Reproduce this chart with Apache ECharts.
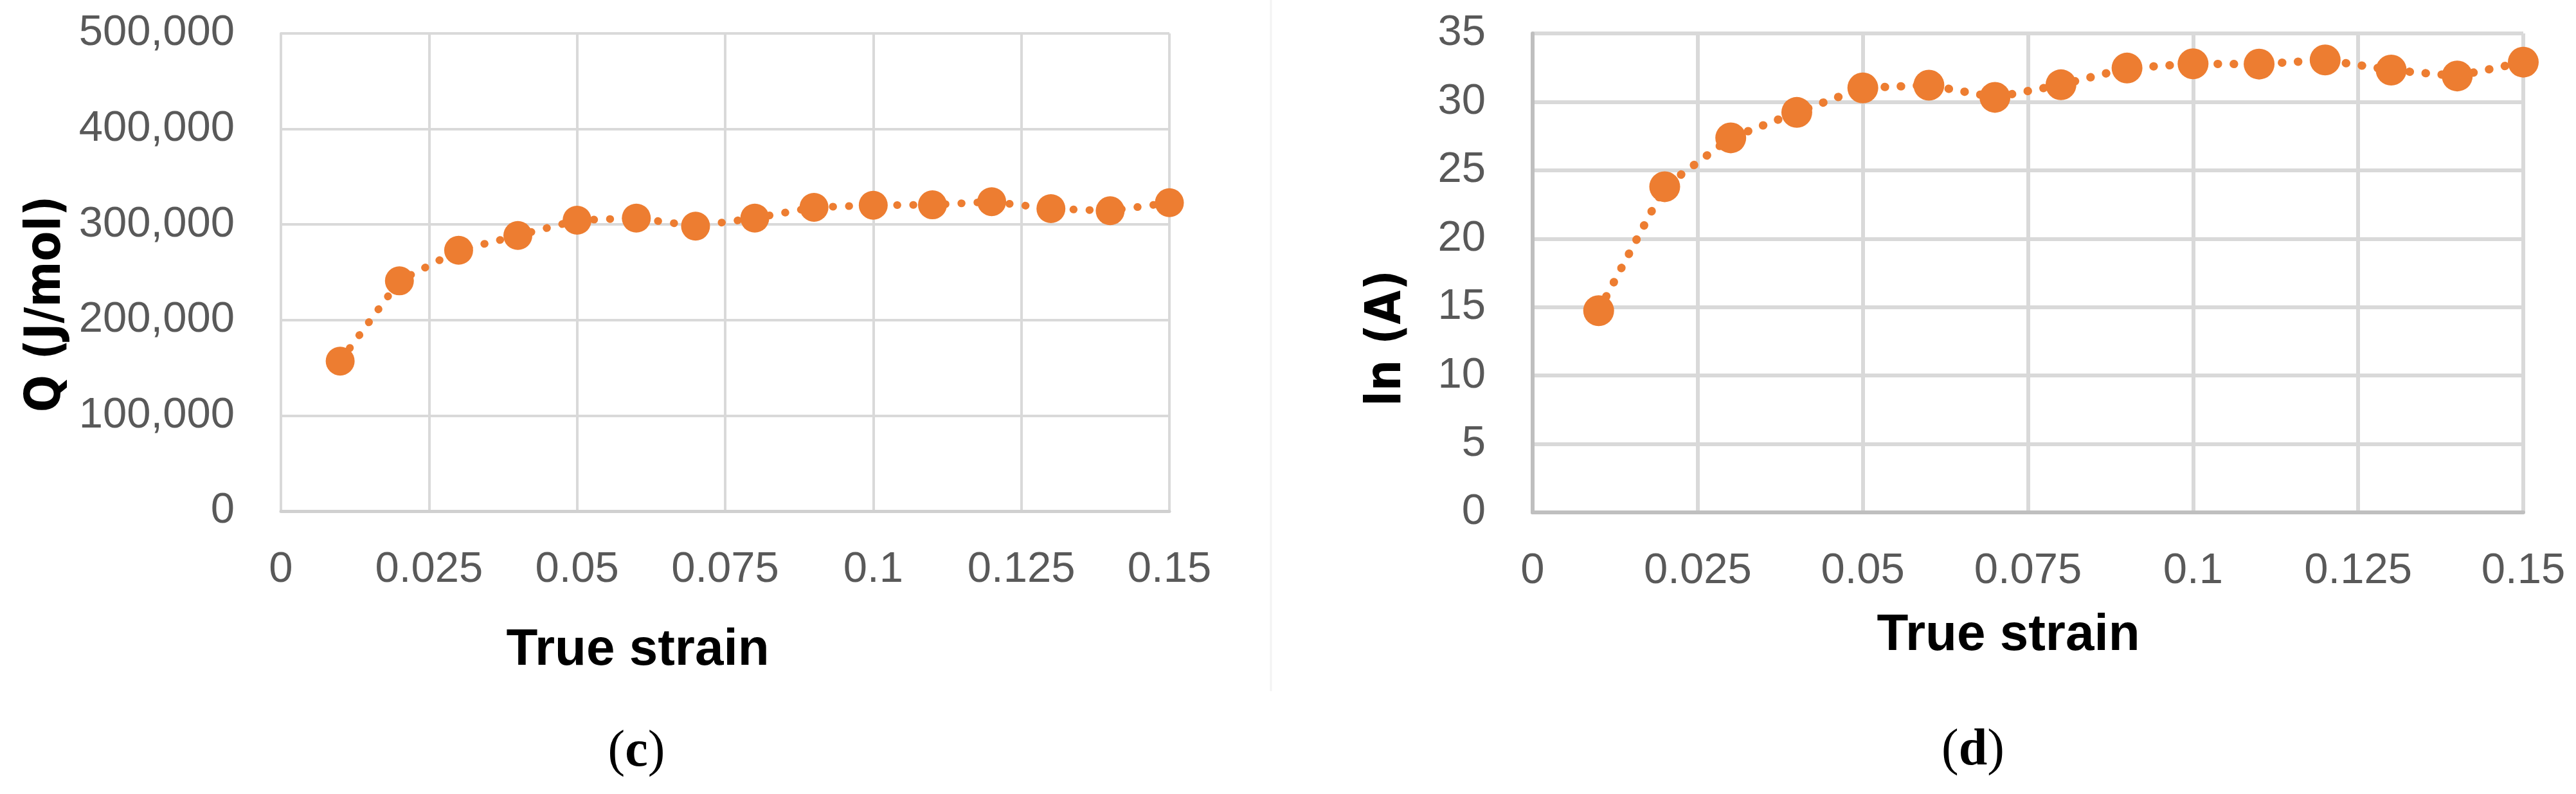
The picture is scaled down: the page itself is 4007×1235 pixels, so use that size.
<!DOCTYPE html>
<html>
<head>
<meta charset="utf-8">
<script src="https://cdn.jsdelivr.net/npm/echarts@6/dist/echarts.min.js"></script>
<style>
  html, body { margin: 0; padding: 0; background: #fff; }
  #chart { width: 4007px; height: 1235px; }
</style>
</head>
<body>
<div id="chart"></div>
<script>
// true strain values (x)
const strain = [0.01, 0.02, 0.03, 0.04, 0.05, 0.06, 0.07, 0.08, 0.09, 0.1, 0.11, 0.12, 0.13, 0.14, 0.15];
// (c) activation energy Q, J/mol
const qValues = [157000, 241000, 273000, 288500, 304500, 306700, 298300, 306700, 318000, 320200, 320600, 323900, 316600, 314400, 322800];
// (d) ln(A)
const lnA = [14.74, 23.8, 27.37, 29.23, 31.02, 31.22, 30.33, 31.25, 32.47, 32.78, 32.76, 33.06, 32.32, 31.89, 32.9];

const orange = '#ED7D31';
const tickFont = "'Liberation Sans', Arial, sans-serif";
const titleFont = "'DejaVu Sans Condensed', 'DejaVu Sans', Verdana, sans-serif";

function pairs(ys) {
  return strain.map((x, i) => [x, ys[i]]);
}

const chart = echarts.init(document.getElementById('chart'));

let xAxisBase = (grid, lineColor, lineW, gridW) => ({
  type: 'value',
  gridIndex: grid,
  min: 0,
  max: 0.15,
  interval: 0.025,
  axisLine: { show: true, lineStyle: { color: lineColor, width: lineW } },
  axisTick: { show: false },
  axisLabel: {
    margin: 58,
    fontFamily: tickFont,
    fontSize: 67,
    color: '#595959',
    formatter: v => String(parseFloat(v.toFixed(3)))
  },
  splitLine: { show: true, lineStyle: { color: '#D9D9D9', width: gridW } }
});

chart.setOption({
  animation: false,
  backgroundColor: '#fff',
  grid: [
    { left: 437, top: 52, width: 1382, height: 743 },
    { left: 2384, top: 52, width: 1541, height: 745 }
  ],
  xAxis: [
    xAxisBase(0, '#D0D0D0', 5, 4),
    xAxisBase(1, '#BFBFBF', 6, 6)
  ],
  yAxis: [
    {
      type: 'value',
      gridIndex: 0,
      min: 0,
      max: 500000,
      interval: 100000,
      axisLine: { show: true, lineStyle: { color: '#D9D9D9', width: 4 } },
      axisTick: { show: false },
      axisLabel: {
        margin: 72,
        fontFamily: tickFont,
        fontSize: 67,
        color: '#595959',
        formatter: v => v.toLocaleString('en-US')
      },
      splitLine: { show: true, lineStyle: { color: '#D9D9D9', width: 4 } }
    },
    {
      type: 'value',
      gridIndex: 1,
      min: 0,
      max: 35,
      interval: 5,
      axisLine: { show: true, lineStyle: { color: '#BFBFBF', width: 6 } },
      axisTick: { show: false },
      axisLabel: {
        margin: 73,
        fontFamily: tickFont,
        fontSize: 67,
        color: '#595959'
      },
      splitLine: { show: true, lineStyle: { color: '#D9D9D9', width: 6 } }
    }
  ],
  series: [
    {
      type: 'line',
      xAxisIndex: 0,
      yAxisIndex: 0,
      data: pairs(qValues),
      symbol: 'circle',
      symbolSize: 45,
      itemStyle: { color: orange },
      lineStyle: { color: orange, width: 12, type: [0.5, 24.5], cap: 'round' }
    },
    {
      type: 'line',
      xAxisIndex: 1,
      yAxisIndex: 1,
      data: pairs(lnA),
      symbol: 'circle',
      symbolSize: 48,
      itemStyle: { color: orange },
      lineStyle: { color: orange, width: 13, type: [0.5, 24.5], cap: 'round' }
    }
  ],
  graphic: [
    // faint edge of the left panel
    { type: 'line', shape: { x1: 1977, y1: 0, x2: 1977, y2: 1075 }, style: { stroke: '#F3F3F3', lineWidth: 3 } },
    // y titles
    { type: 'text', x: 73, y: 473, rotation: Math.PI / 2,
      style: { text: 'Q (J/mol)', font: 'bold 76px ' + titleFont, fill: '#000', align: 'center', verticalAlign: 'middle' } },
    { type: 'text', x: 2158, y: 526, rotation: Math.PI / 2,
      style: { text: 'ln (A)', font: 'bold 76px ' + titleFont, fill: '#000', align: 'center', verticalAlign: 'middle' } },
    // x titles
    { type: 'text', x: 992, y: 1012,
      style: { text: 'True strain', font: "bold 80px 'Liberation Sans', Arial, sans-serif", fill: '#000', align: 'center', verticalAlign: 'middle' } },
    { type: 'text', x: 3124, y: 989,
      style: { text: 'True strain', font: "bold 80px 'Liberation Sans', Arial, sans-serif", fill: '#000', align: 'center', verticalAlign: 'middle' } },
    // panel captions
    { type: 'text', x: 990, y: 1170,
      style: { text: '({b|c})', font: "80px 'Liberation Serif', 'DejaVu Serif', serif", fill: '#000', align: 'center', verticalAlign: 'middle',
        rich: { b: { fontWeight: 'bold', fontSize: 80, fontFamily: "'Liberation Serif', 'DejaVu Serif', serif" } } } },
    { type: 'text', x: 3069, y: 1168,
      style: { text: '({b|d})', font: "80px 'Liberation Serif', 'DejaVu Serif', serif", fill: '#000', align: 'center', verticalAlign: 'middle',
        rich: { b: { fontWeight: 'bold', fontSize: 80, fontFamily: "'Liberation Serif', 'DejaVu Serif', serif" } } } }
  ]
});
</script>
</body>
</html>
